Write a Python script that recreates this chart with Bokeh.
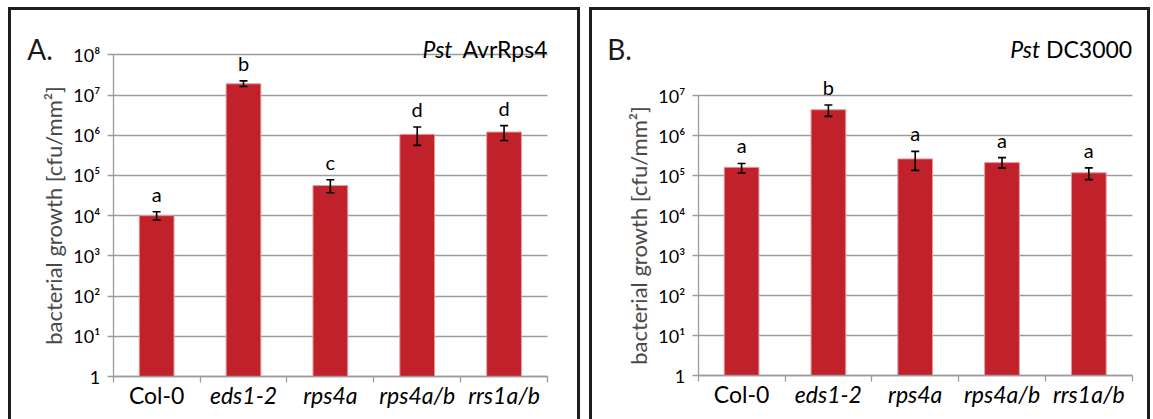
import numpy as np
from bokeh.plotting import figure
from bokeh.models import (ColumnDataSource, Range1d, FixedTicker, CustomJSTickFormatter,
                          Whisker, TeeHead, LabelSet, Label)
from bokeh.core.properties import value
from bokeh.layouts import row
from bokeh.embed import file_html
from bokeh.resources import INLINE

genotypes = ["Col-0", "eds1-2", "rps4a", "rps4a/b", "rrs1a/b"]
genotype_style = ["normal", "italic", "italic", "italic", "italic"]

# Pst AvrRps4, bacterial growth (cfu/mm2): mean and error-bar limits
avr_mean = [1.0e4, 1.9e7, 5.6e4, 1.05e6, 1.2e6]
avr_upper = [1.25e4, 2.25e7, 7.8e4, 1.6e6, 1.73e6]
avr_lower = [0.78e4, 1.63e7, 3.7e4, 5.6e5, 7.4e5]
avr_groups = ["a", "b", "c", "d", "d"]

# Pst DC3000
dc_mean = [1.6e5, 4.4e6, 2.6e5, 2.1e5, 1.17e5]
dc_upper = [2.0e5, 5.8e6, 4.0e5, 2.8e5, 1.55e5]
dc_lower = [1.15e5, 3.0e6, 1.34e5, 1.55e5, 7.9e4]
dc_groups = ["a", "b", "a", "a", "a"]

FONT = "Lato"
BAR = "#C0212A"
GRID = "#9c9c9c"
PANEL_H = 412

SUPERSCRIPT_FMT = CustomJSTickFormatter(code="""
const sup = "\u2070\u00b9\u00b2\u00b3\u2074\u2075\u2076\u2077\u2078\u2079";
const e = Math.round(Math.log10(tick));
return e === 0 ? "1" : "10" + sup[e];
""")


def panel(tag, strain, mean, upper, lower, groups, top_exp, width, margin,
          plot_box, tag_dx, head_dy, pst_dx):
    """One framed panel; the whole canvas is the plot frame and the axes are
    pinned inside it, so the heading and the genotype names can share it."""
    n = len(genotypes)
    # pixel box of the value area inside the canvas: left, right, baseline, top
    left, right, base, top = plot_box
    ux = (right - left) / n
    uy = (base - top) / top_exp
    x_range = Range1d(-left / ux, (width - left) / ux)
    y_range = Range1d(10 ** (-(PANEL_H - base) / uy), 10 ** (base / uy))

    x = np.arange(n) + 0.5
    src = ColumnDataSource(dict(x=x, mean=mean, upper=upper, lower=lower,
                                grp=groups, name=genotypes, style=genotype_style))
    p = figure(width=width, height=PANEL_H, x_range=x_range, y_range=y_range,
               y_axis_type="log", output_backend="svg", toolbar_location=None,
               min_border=0, border_fill_color=None, background_fill_color=None,
               outline_line_color=None, margin=margin,
               styles={"background-color": "white",
                       "box-shadow": "inset 3px 3px 0 0 #1e1e1e, inset -3px 0 0 0 #1e1e1e"})

    p.vbar(x="x", top="mean", bottom=1, width=0.4, source=src,
           fill_color=BAR, line_color="#e39a9d", line_width=1)

    head = dict(size=8, line_color="black", line_width=1.6)
    p.add_layout(Whisker(base="x", upper="upper", lower="lower", source=src,
                         level="overlay", line_color="black", line_width=1.6,
                         upper_head=TeeHead(**head), lower_head=TeeHead(**head)))

    # significance letters above the error bars
    p.add_layout(LabelSet(x="x", y="upper", text="grp", source=src, y_offset=10,
                          text_align="center", text_baseline="alphabetic",
                          text_font=value(FONT), text_font_size="20px",
                          text_color="black"))

    # genotype names under each bar (Col-0 upright, mutants italic)
    p.add_layout(LabelSet(x="x", y=1, text="name", source=src, y_offset=-27,
                          text_align="center", text_baseline="alphabetic",
                          text_font=value(FONT), text_font_size="23px",
                          text_font_style="style", text_color="black"))

    # axes pinned at x = 0 and y = 1
    p.xgrid.visible = False
    p.xaxis.fixed_location = 1
    p.xaxis.bounds = (0, n)
    p.xaxis.ticker = FixedTicker(ticks=[], minor_ticks=list(range(n + 1)))
    p.xaxis.minor_tick_line_color = GRID
    p.xaxis.minor_tick_line_width = 1.3
    p.xaxis.minor_tick_in = 0
    p.xaxis.minor_tick_out = 6

    p.yaxis.fixed_location = 0
    p.yaxis.bounds = (1, 10 ** top_exp)
    p.yaxis.ticker = FixedTicker(ticks=[10.0 ** k for k in range(top_exp + 1)])
    p.yaxis.formatter = SUPERSCRIPT_FMT
    p.yaxis.minor_tick_line_color = None
    p.yaxis.major_tick_line_color = GRID
    p.yaxis.major_tick_line_width = 1.3
    p.yaxis.major_tick_in = 0
    p.yaxis.major_tick_out = 6
    for ax in (p.xaxis, p.yaxis):
        ax.axis_line_color = GRID
        ax.axis_line_width = 1.3
    p.yaxis.major_label_text_font = FONT
    p.yaxis.major_label_text_font_size = "18px"
    p.yaxis.major_label_text_color = "black"
    p.yaxis.major_label_standoff = 7
    p.yaxis.axis_label = "bacterial growth [cfu/mm\u00b2]"
    p.yaxis.axis_label_text_font = FONT
    p.yaxis.axis_label_text_font_size = "22px"
    p.yaxis.axis_label_text_font_style = "normal"
    p.yaxis.axis_label_text_color = "#4a4a4a"
    p.yaxis.axis_label_standoff = 4
    p.ygrid.grid_line_color = GRID
    p.ygrid.grid_line_width = 1.3
    p.ygrid.cross_bounds = (0, n)

    ytop = 10 ** top_exp
    p.add_layout(Label(x=0, y=ytop, x_offset=tag_dx, y_offset=head_dy, text=tag,
                       text_font=FONT, text_font_size="28px", text_color="#1a1a1a",
                       text_baseline="alphabetic"))
    p.add_layout(Label(x=n, y=ytop, y_offset=head_dy, text=strain,
                       text_align="right", text_baseline="alphabetic",
                       text_font=FONT, text_font_size="23px", text_color="black"))
    p.add_layout(Label(x=n, y=ytop, x_offset=pst_dx, y_offset=head_dy, text="Pst",
                       text_align="right", text_baseline="alphabetic",
                       text_font=FONT, text_font_size="23px", text_font_style="italic",
                       text_color="black"))
    return p


pa = panel("A.", "AvrRps4", avr_mean, avr_upper, avr_lower, avr_groups, 8,
           572, (7, 0, 0, 8), (104.7, 539, 369, 47.3), -86, 6, -95)
pb = panel("B.", "DC3000", dc_mean, dc_upper, dc_lower, dc_groups, 7,
           561, (7, 0, 0, 9), (108.7, 542.7, 368, 88), -91, 47, -92)

layout = row(pa, pb)
open("out.html", "w", encoding="utf-8").write(file_html(layout, INLINE))
